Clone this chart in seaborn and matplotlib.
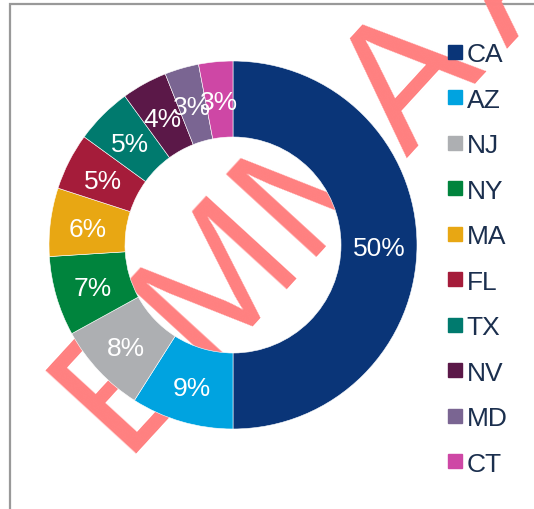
import seaborn as sns
import matplotlib.pyplot as plt
from matplotlib import font_manager
from matplotlib.lines import Line2D
from matplotlib.patches import Rectangle

states = ['CA', 'AZ', 'NJ', 'NY', 'MA', 'FL', 'TX', 'NV', 'MD', 'CT']
shares = [50, 9, 8, 7, 6, 5, 5, 4, 3, 3]
colors = ['#0A3578', '#00A3E0', '#ADAFB2', '#00843D', '#E8A713',
          '#A51C3A', '#007A6E', '#5B1848', '#7A6592', '#CE47A5']

sns.set_style('white')
plt.rcParams['font.family'] = ['Liberation Sans', 'DejaVu Sans']
palette = sns.color_palette(colors)

W, H = 534, 510
fig = plt.figure(figsize=(W / 100, H / 100), dpi=100)

# frame (left + top edges visible, the rest is cut off)
fig.add_artist(Rectangle((10 / W, -0.1), 1.2, (H - 5) / H + 0.1, transform=fig.transFigure,
                         fill=False, edgecolor='#999999', linewidth=1.6, zorder=0))

# watermark behind the donut
names = {f.name for f in font_manager.fontManager.ttflist}
if 'Liberation Sans Narrow' in names:
    wm_family, wm_size = ['Liberation Sans Narrow'], 152
else:
    wm_family, wm_size = ['Liberation Sans'], 128
fig.text(127 / W, (H - 464) / H, 'EMMA AI', rotation=47.5, rotation_mode='anchor',
         ha='left', va='baseline', fontsize=wm_size, color='#FF8080', family=wm_family,
         zorder=0.5)

# donut
cx, cy, r = 233, 246, 184
ax = fig.add_axes([(cx - r) / W, (H - cy - r) / H, 2 * r / W, 2 * r / H])
ax.set_zorder(2)
ax.patch.set_alpha(0)
wedges, texts, autotexts = ax.pie(
    shares, colors=palette, startangle=90, counterclock=False, radius=1,
    wedgeprops=dict(width=0.413, edgecolor='white', linewidth=0.4),
    autopct=lambda p: f'{p:.0f}%', pctdistance=0.795,
    textprops=dict(color='white', fontsize=19))
for t in autotexts:
    t.set_va('center_baseline')
ax.set_xlim(-1, 1)
ax.set_ylim(-1, 1)
ax.axis('off')

handles = [Line2D([], [], marker='s', linestyle='', markersize=9.5,
                  markerfacecolor=c, markeredgecolor=c) for c in palette]
leg = fig.legend(handles, states, loc='upper left', bbox_to_anchor=(447 / W, (H - 43) / H),
                 frameon=False, fontsize=19, handlelength=0.6, handletextpad=0.15,
                 labelspacing=0.815, borderpad=0, borderaxespad=0)
leg.set_zorder(3)
for t in leg.get_texts():
    t.set_color('#1B2F4E')

fig.savefig('out.png', dpi=100)
